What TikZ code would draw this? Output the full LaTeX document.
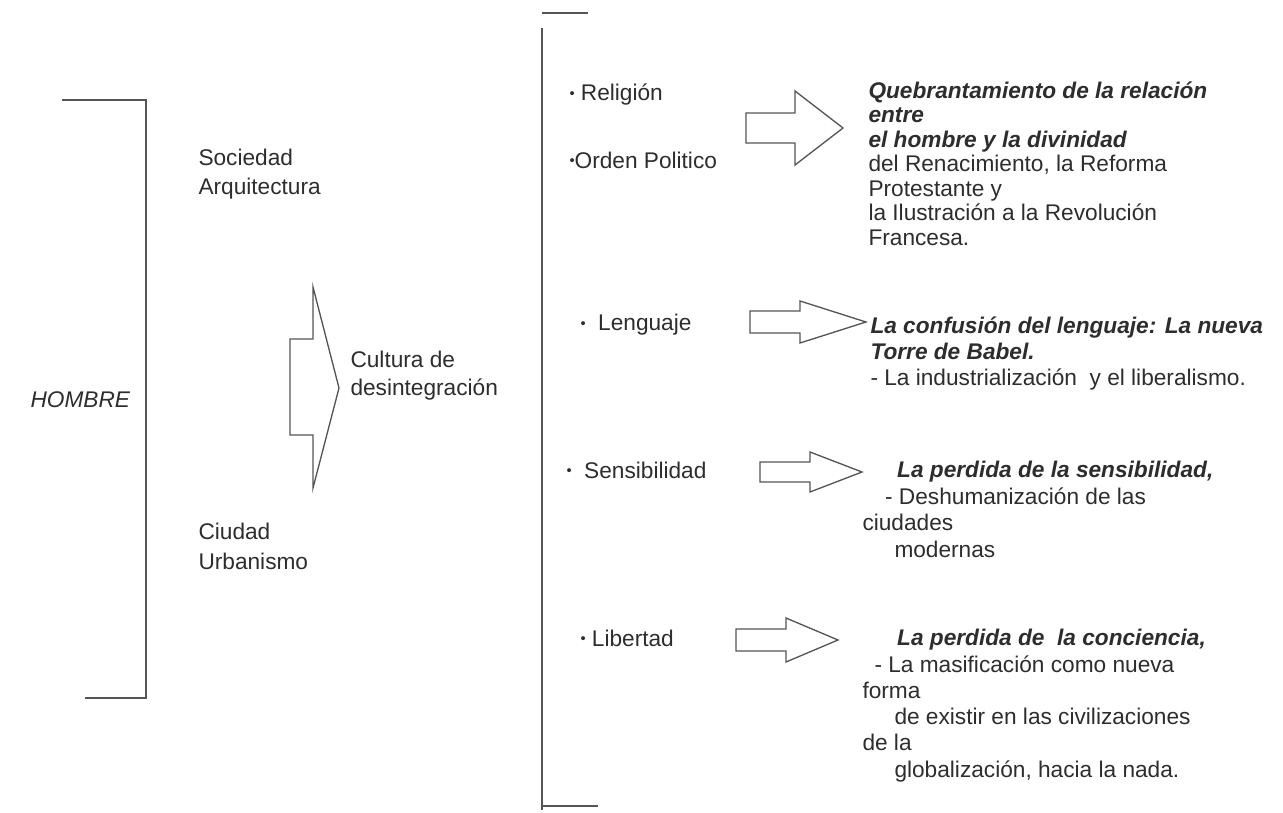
\documentclass[tikz,border=0pt]{standalone}
\usepackage{fontspec}
\setmainfont{Liberation Sans}

\definecolor{linegray}{RGB}{85,85,85}
\definecolor{inkgray}{RGB}{45,45,45}
\newcommand{\itembullet}{\raisebox{0.12em}{\fontsize{11}{11}\selectfont •}}

\tikzset{every picture/.style={line width=0.75pt}}
\tikzset{
  bracket/.style={draw=linegray, line width=1.1pt},
  blockarrow/.style={draw=linegray, line width=1pt, line join=miter},
  txt/.style={text=inkgray, inner sep=0pt, align=left, font=\fontsize{17}{20}\selectfont},
  txtblock/.style={txt, anchor=north west, font=\fontsize{17}{#1}\selectfont},
  item/.style={txt, anchor=west},
}

\begin{document}
\begin{tikzpicture}[x=0.75pt,y=0.75pt,yscale=-1,xscale=1]
\useasboundingbox (0,0) rectangle (1283,813);

%Shape: Bracket left
\draw [bracket] (62,100) -- (146,100) -- (146,698) -- (85,698) ;
%Shape: Bracket middle
\draw [bracket] (542,13) -- (588,13) ;
\draw [bracket] (542,28) -- (542,810) ;
\draw [bracket] (542,806) -- (598,806) ;

%Shape: Right Arrow big
\draw [blockarrow] (290,339) -- (313,339) -- (313,287) -- (339,388) -- (313,488) -- (313,435) -- (290,435) -- cycle ;
%Shape: Right Arrow 1
\draw [blockarrow] (746,113) -- (795,113) -- (795,91) -- (843,128) -- (795,165) -- (795,143) -- (746,143) -- cycle ;
%Shape: Right Arrow 2
\draw [blockarrow] (750,311) -- (800,311) -- (800,301) -- (866,322) -- (800,343) -- (800,333) -- (750,333) -- cycle ;
%Shape: Right Arrow 3
\draw [blockarrow] (760,462) -- (810,462) -- (810,452) -- (862,472) -- (810,492) -- (810,482) -- (760,482) -- cycle ;
%Shape: Right Arrow 4
\draw [blockarrow] (736,629) -- (786,629) -- (786,618) -- (838,640) -- (786,662) -- (786,651) -- (736,651) -- cycle ;

% Text Node
\node [item] (hombre) at (30,400) {\itshape HOMBRE};
% Text Node
\node [txtblock=21.75] (sociedad) at (198,149) {Sociedad\\Arquitectura};
% Text Node
\node [txtblock=22.5] (ciudad) at (198,523) {Ciudad\\Urbanismo};
% Text Node
\node [txtblock=21] (cultura) at (350,351) {Cultura de\\desintegración};

% Text Node
\node [item] (religion) at (569,95) {\itembullet\ Religión};
% Text Node
\node [item] (orden) at (569,160) {\itembullet Orden Politico};
% Text Node
\node [item] (lenguaje) at (580,325) {\itembullet\ \ Lenguaje};
% Text Node
\node [item] (sensibilidad) at (566,470) {\itembullet\ \ Sensibilidad};
% Text Node
\node [item] (libertad) at (580,638) {\itembullet\ Libertad};

% Text Node
\node [txtblock=18.4] (quebranto) at (868,81) {\bfseries\itshape Quebrantamiento de la relación\\\bfseries\itshape entre\\\bfseries\itshape el hombre y la divinidad\\del Renacimiento, la Reforma\\Protestante y\\la Ilustración a la Revolución\\Francesa.};
% Text Node
\node [txtblock=19.5] (confusion) at (870,316) {\bfseries\itshape La confusión del lenguaje: La nueva\\\bfseries\itshape Torre de Babel.\\- La industrialización\ \ y el liberalismo.};
% Text Node
\node [txtblock=19.9] (sensib) at (862,461) {\hspace*{26pt}\bfseries\itshape La perdida de la sensibilidad,\\\hspace*{17pt}- Deshumanización de las\\ciudades\\\hspace*{24pt}modernas};
% Text Node
\node [txtblock=19.7] (conciencia) at (862,629) {\hspace*{26pt}\bfseries\itshape La perdida de\ \ la conciencia,\\\hspace*{9pt}- La masificación como nueva\\forma\\\hspace*{24pt}de existir en las civilizaciones\\de la\\\hspace*{24pt}globalización, hacia la nada.};

\end{tikzpicture}
\end{document}
